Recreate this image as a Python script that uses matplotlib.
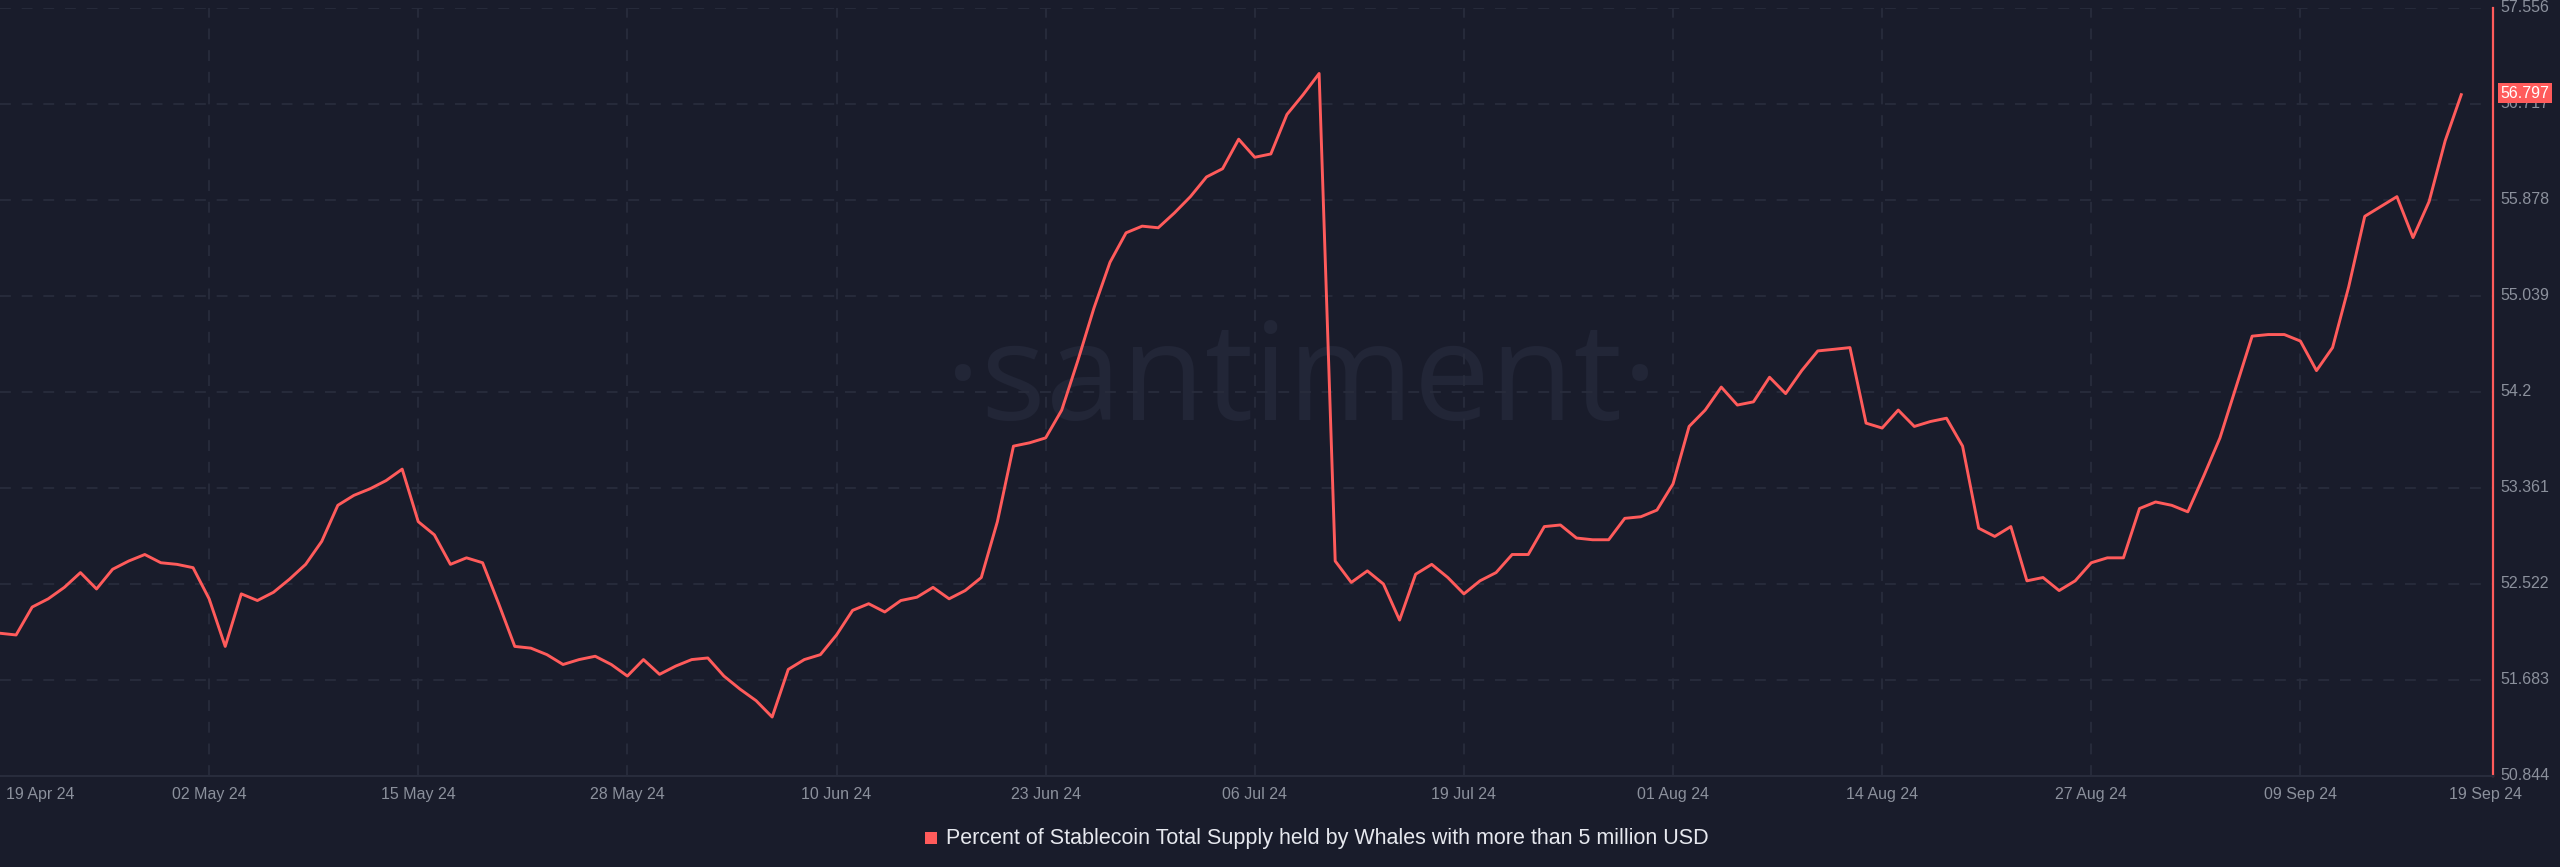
import matplotlib.pyplot as plt
import matplotlib.dates as mdates
import numpy as np
from datetime import datetime, timedelta

# daily values, 19 Apr 24 -> 19 Sep 24
start = datetime(2024, 4, 19)
whale_pct = [
    52.091, 52.076, 52.320, 52.392, 52.492, 52.621, 52.478, 52.650, 52.722, 52.779,
    52.707, 52.693, 52.664, 52.392, 51.976, 52.435, 52.377, 52.449, 52.564, 52.693,
    52.894, 53.209, 53.296, 53.353, 53.425, 53.525, 53.066, 52.951, 52.693, 52.750,
    52.707, 52.349, 51.976, 51.961, 51.904, 51.818, 51.861, 51.890, 51.818, 51.717,
    51.861, 51.732, 51.804, 51.861, 51.875, 51.717, 51.603, 51.502, 51.359, 51.775,
    51.861, 51.904, 52.076, 52.291, 52.349, 52.277, 52.377, 52.406, 52.492, 52.392,
    52.464, 52.578, 53.066, 53.726, 53.755, 53.798, 54.041, 54.472, 54.931, 55.332,
    55.590, 55.648, 55.634, 55.763, 55.906, 56.078, 56.150, 56.408, 56.250, 56.279,
    56.624, 56.796, 56.982, 52.722, 52.535, 52.636, 52.521, 52.206, 52.607, 52.693,
    52.578, 52.435, 52.549, 52.621, 52.779, 52.779, 53.023, 53.037, 52.923, 52.908,
    52.908, 53.095, 53.109, 53.167, 53.396, 53.898, 54.041, 54.242, 54.085, 54.113,
    54.328, 54.185, 54.386, 54.558, 54.572, 54.587, 53.927, 53.884, 54.041, 53.898,
    53.941, 53.970, 53.726, 53.009, 52.937, 53.023, 52.549, 52.578, 52.464, 52.549,
    52.707, 52.750, 52.750, 53.181, 53.238, 53.209, 53.152, 53.468, 53.798, 54.242,
    54.687, 54.701, 54.701, 54.644, 54.386, 54.587, 55.117, 55.734, 55.820, 55.906,
    55.548, 55.863, 56.394, 56.797,
]
dates = [start + timedelta(days=i) for i in range(len(whale_pct))]

y_ticks = [50.844, 51.683, 52.522, 53.361, 54.2, 55.039, 55.878, 56.717, 57.556]
y_labels = ['50.844', '51.683', '52.522', '53.361', '54.2', '55.039', '55.878', '56.717', '57.556']
x_tick_labels = ['02 May 24', '15 May 24', '28 May 24', '10 Jun 24', '23 Jun 24',
                 '06 Jul 24', '19 Jul 24', '01 Aug 24', '14 Aug 24', '27 Aug 24', '09 Sep 24']
x_ticks = [datetime.strptime(s, '%d %b %y') for s in x_tick_labels]
series_name = 'Percent of Stablecoin Total Supply held by Whales with more than 5 million USD'

plt.rcParams['font.family'] = ['Liberation Sans Narrow', 'Liberation Sans', 'DejaVu Sans']

bg = '#191c2b'
red = '#ff5b5b'
grid = '#282c3c'
txt = '#8b909c'

fig = plt.figure(figsize=(25.6, 8.67), dpi=100, facecolor=bg)
ax = fig.add_axes([0.0, 0.105, 0.974, 0.886], facecolor=bg)

ax.text(0.522, 0.51, '\u00b7santiment\u00b7', transform=ax.transAxes, ha='center', va='center',
        fontsize=98, color='#222637', family=['Open Sans', 'DejaVu Sans'], fontweight='normal',
        zorder=0)

ax.plot(dates, whale_pct, color=red, lw=2.1, zorder=3)

x_left = start
x_right = start + timedelta(days=155)
ax.set_xlim(x_left, x_right)
ax.set_ylim(y_ticks[0], y_ticks[-1])

ax.set_yticks(y_ticks)
ax.set_yticklabels([])
ax.set_xticks(x_ticks)
ax.set_xticklabels([])
ax.tick_params(length=0)
ax.grid(True, color=grid, lw=1.3, ls=(0, (6, 6)))

for s in ['top', 'left']:
    ax.spines[s].set_visible(False)
ax.spines['bottom'].set_color(grid)
ax.spines['bottom'].set_linewidth(1.5)
ax.spines['right'].set_color(red)
ax.spines['right'].set_linewidth(1.6)

# y labels to the right of the axis
for v, lab in zip(y_ticks, y_labels):
    ax.annotate(lab, xy=(1, v), xycoords=('axes fraction', 'data'), xytext=(5, 0),
                textcoords='offset points', ha='left', va='center', fontsize=11.5, color=txt)

last = whale_pct[-1]
ax.annotate(f'{last:.3f}', xy=(1, last), xycoords=('axes fraction', 'data'), xytext=(5, 1),
            textcoords='offset points', ha='left', va='center', fontsize=11.5, color='white',
            bbox=dict(boxstyle='square,pad=0.15', fc=red, ec='none'), zorder=5)

# x labels
for d, lab in zip(x_ticks, x_tick_labels):
    ax.annotate(lab, xy=(mdates.date2num(d), 0), xycoords=('data', 'axes fraction'),
                xytext=(0, -8), textcoords='offset points', ha='center', va='top',
                fontsize=11.5, color=txt)
ax.annotate('19 Apr 24', xy=(0, 0), xycoords='axes fraction', xytext=(4, -8),
            textcoords='offset points', ha='left', va='top', fontsize=11.5, color=txt)
ax.annotate('19 Sep 24', xy=(1, 0), xycoords='axes fraction', xytext=(-6, -8),
            textcoords='offset points', ha='center', va='top', fontsize=11.5, color=txt)

# legend
leg = fig.text(0.3695, 0.033, series_name, ha='left', va='center', fontsize=15.5, color='#e6e8ee')
fig.patches.append(plt.Rectangle((0.3615, 0.026), 0.0047, 0.0145, transform=fig.transFigure,
                                 fc=red, ec='none'))

fig.savefig('out.png', dpi=100, facecolor=bg)
